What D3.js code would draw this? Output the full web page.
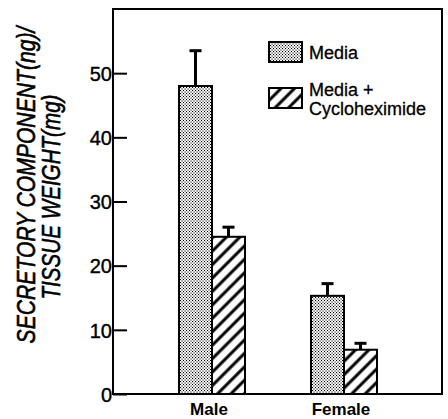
<!DOCTYPE html>
<html>
<head>
<meta charset="utf-8">
<script src="https://cdn.jsdelivr.net/npm/d3@7"></script>
<style>
  html, body { margin: 0; padding: 0; background: #fff; }
  svg { display: block; }
  text { font-family: "Liberation Sans", Arial, Helvetica, sans-serif; fill: #000; }
</style>
</head>
<body>
<svg id="chart" width="448" height="419"></svg>
<script>
// Secretory component per tissue weight, by sex and treatment
const groups = ["Male", "Female"];
const series = ["Media", "Media + Cycloheximide"];
const mediaValues = [48.0, 15.3];
const mediaErrors = [5.5, 1.9];
const cycloValues = [24.5, 6.9];
const cycloErrors = [1.5, 1.0];
const yTicks = [0, 10, 20, 30, 40, 50];
const yLabelLines = ["SECRETORY COMPONENT(ng)/", "TISSUE  WEIGHT(mg)"];

const rows = [];
groups.forEach((g, i) => {
  rows.push({ group: g, series: series[0], value: mediaValues[i], err: mediaErrors[i] });
  rows.push({ group: g, series: series[1], value: cycloValues[i], err: cycloErrors[i] });
});

const svg = d3.select("#chart");
const plot = { left: 113, right: 442, top: 9, bottom: 394 };

// Fill patterns: fine stipple and diagonal hatching
const defs = svg.append("defs");
const dots = defs.append("pattern")
  .attr("id", "stipple").attr("patternUnits", "userSpaceOnUse")
  .attr("width", 3).attr("height", 3);
dots.append("rect").attr("width", 3).attr("height", 3).attr("fill", "#fff");
dots.append("rect").attr("x", 0).attr("y", 0).attr("width", 1.1).attr("height", 1.1).attr("fill", "#000");
dots.append("rect").attr("x", 1.5).attr("y", 1.5).attr("width", 1.1).attr("height", 1.1).attr("fill", "#000");

const hatch = defs.append("pattern")
  .attr("id", "hatch").attr("patternUnits", "userSpaceOnUse")
  .attr("width", 9.5).attr("height", 9.5)
  .attr("patternTransform", "rotate(45)");
hatch.append("rect").attr("width", 9.5).attr("height", 9.5).attr("fill", "#fff");
hatch.append("line").attr("x1", 4.75).attr("y1", 0).attr("x2", 4.75).attr("y2", 9.5)
  .attr("stroke", "#000").attr("stroke-width", 3);

const fills = { [series[0]]: "url(#stipple)", [series[1]]: "url(#hatch)" };

// Scales
const y = d3.scaleLinear().domain([0, 60]).range([plot.bottom, plot.top]);
const x0 = d3.scaleBand().domain(groups).range([plot.left, plot.right + 1])
  .paddingInner(0.5).paddingOuter(0.5);
const x1 = d3.scaleBand().domain(series).range([0, x0.bandwidth()]);

// Bars
const bars = svg.append("g");
bars.selectAll("rect").data(rows).join("rect")
  .attr("x", d => x0(d.group) + x1(d.series))
  .attr("y", d => y(d.value))
  .attr("width", x1.bandwidth())
  .attr("height", d => y(0) - y(d.value))
  .attr("fill", d => fills[d.series])
  .attr("stroke", "#000").attr("stroke-width", 2);

// Upper error bars
const errs = svg.append("g").attr("stroke", "#000");
rows.forEach(d => {
  const cx = x0(d.group) + x1(d.series) + x1.bandwidth() / 2;
  errs.append("line").attr("x1", cx).attr("x2", cx)
    .attr("y1", y(d.value)).attr("y2", y(d.value + d.err)).attr("stroke-width", 3);
  errs.append("line").attr("x1", cx - 6).attr("x2", cx + 6)
    .attr("y1", y(d.value + d.err)).attr("y2", y(d.value + d.err)).attr("stroke-width", 3);
});

// Frame
svg.append("rect")
  .attr("x", plot.left).attr("y", plot.top)
  .attr("width", plot.right - plot.left).attr("height", plot.bottom - plot.top)
  .attr("fill", "none").attr("stroke", "#000").attr("stroke-width", 2);

// Y axis with inward ticks
const yAxis = svg.append("g")
  .attr("transform", `translate(${plot.left},0)`)
  .call(d3.axisLeft(y).tickValues(yTicks).tickSize(-14).tickPadding(1).tickFormat(d3.format("d")));
yAxis.select(".domain").remove();
yAxis.selectAll(".tick line").attr("stroke", "#000").attr("stroke-width", 2);
yAxis.selectAll(".tick text")
  .attr("font-size", 20).attr("font-family", "\"DejaVu Sans\", sans-serif")
  .attr("stroke", "#000").attr("stroke-width", 0.4)
  .attr("dy", "0.36em");

// Category labels
svg.append("g").selectAll("text").data(groups).join("text")
  .attr("x", d => x0(d) + x0.bandwidth() / 2 - 3)
  .attr("y", 415)
  .attr("text-anchor", "middle")
  .attr("font-size", 17).attr("font-weight", 600)
  .text(d => d);

// Y axis title: two condensed italic lines, squeezed to a set length
const titleSpec = [
  { x: 35, cy: 185, len: 317 },
  { x: 60, cy: 197, len: 205 }
];
yLabelLines.forEach((t, i) => {
  const g = svg.append("g")
    .attr("transform", `translate(${titleSpec[i].x},${titleSpec[i].cy}) rotate(-90)`);
  const txt = g.append("text")
    .attr("text-anchor", "middle")
    .attr("font-family", "\"Liberation Sans Narrow\", \"Liberation Sans\", Arial, sans-serif")
    .attr("font-size", 25).attr("font-style", "italic")
    .attr("stroke", "#000").attr("stroke-width", 0.6)
    .text(t);
  const natural = txt.node().getComputedTextLength();
  txt.attr("transform", `scale(${titleSpec[i].len / natural},1)`);
});

// Legend
const legend = svg.append("g");
const legendItems = [
  { s: series[0], y: 42, lines: ["Media"], base: 59 },
  { s: series[1], y: 88, lines: ["Media +", "Cycloheximide"], base: 96 }
];
legendItems.forEach(it => {
  legend.append("rect").attr("x", 269).attr("y", it.y).attr("width", 33).attr("height", 20)
    .attr("fill", fills[it.s]).attr("stroke", "#000").attr("stroke-width", 2);
  it.lines.forEach((ln, j) => {
    legend.append("text").attr("x", 309).attr("y", it.base + j * 19)
      .attr("font-size", 18).attr("stroke", "#000").attr("stroke-width", 0.3)
      .text(ln);
  });
});
</script>
</body>
</html>
